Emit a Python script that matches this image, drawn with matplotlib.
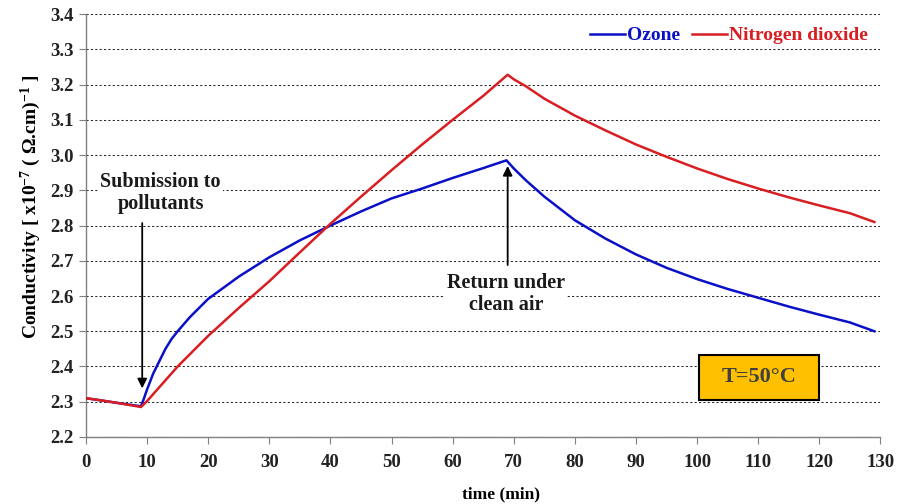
import matplotlib
matplotlib.use("Agg")
import matplotlib.pyplot as plt
from matplotlib.patches import Rectangle

plt.rcParams['font.family'] = ['Liberation Serif', 'DejaVu Serif']
plt.rcParams['font.weight'] = 'bold'
plt.rcParams['mathtext.fontset'] = 'custom'
plt.rcParams['mathtext.rm'] = 'Liberation Serif:bold'
plt.rcParams['mathtext.bf'] = 'Liberation Serif:bold'
plt.rcParams['mathtext.it'] = 'Liberation Serif:bold'
plt.rcParams['mathtext.default'] = 'bf'

# Data
t_ozone = [0, 2, 5, 9, 9.5, 10, 11, 12, 13, 14, 15, 17, 20, 25, 30, 35, 40, 45, 50, 55, 60, 65, 68.8,
           70, 72, 75, 80, 85, 90, 95, 100, 105, 110, 115, 120, 125, 129]
ozone = [2.31, 2.305, 2.297, 2.287, 2.31, 2.335, 2.38, 2.415, 2.45, 2.478, 2.50, 2.54, 2.592, 2.655, 2.71, 2.758,
         2.80, 2.84, 2.877, 2.905, 2.935, 2.963, 2.985,
         2.962, 2.928, 2.882, 2.815, 2.763, 2.718, 2.68, 2.648, 2.62, 2.595, 2.57, 2.547, 2.525, 2.50]

t_no2 = [0, 2, 5, 9, 10, 15, 20, 25, 30, 35, 40, 45, 50, 55, 60, 65, 69,
         70, 72, 75, 80, 85, 90, 95, 100, 105, 110, 115, 120, 125, 129]
no2 = [2.31, 2.305, 2.297, 2.285, 2.302, 2.40, 2.487, 2.566, 2.642, 2.724, 2.805, 2.882, 2.957, 3.03, 3.10, 3.168, 3.228,
       3.215, 3.195, 3.16, 3.112, 3.07, 3.03, 2.995, 2.962, 2.932, 2.905, 2.88, 2.857, 2.835, 2.81]

x_ticks = list(range(0, 131, 10))
y_ticks = [2.2, 2.3, 2.4, 2.5, 2.6, 2.7, 2.8, 2.9, 3.0, 3.1, 3.2, 3.3, 3.4]

blue = '#0A10C8'
red = '#D81E22'

fig = plt.figure(figsize=(9.09, 5.04), dpi=100)
ax = fig.add_axes([0.0946, 0.133, 0.874, 0.839])

ax.plot(t_ozone, ozone, color=blue, lw=1.8, label='Ozone', zorder=3)
ax.plot(t_no2, no2, color=red, lw=1.8, label='Nitrogen dioxide', zorder=3)

ax.set_xlim(0, 130)
ax.set_ylim(2.2, 3.4)
ax.set_xticks(x_ticks)
ax.set_yticks(y_ticks)
ax.set_yticklabels([f'{v:.1f}' for v in y_ticks])
ax.yaxis.grid(True, linestyle=(0, (2, 2.2)), color='#222222', lw=0.75)
ax.set_axisbelow(True)

for s in ['top', 'right']:
    ax.spines[s].set_visible(False)
for s in ['left', 'bottom']:
    ax.spines[s].set_color('#808080')
    ax.spines[s].set_linewidth(1.0)
ax.tick_params(axis='both', direction='out', length=5, color='#808080', labelsize=13.5, labelcolor='#222222')
ax.tick_params(axis='x', pad=7)
ax.tick_params(axis='y', pad=4)

ax.set_xlabel('time (min)', fontsize=12.5, fontweight='bold')
ax.xaxis.set_label_coords(0.523, -0.118)
ax.set_ylabel(r'Conductivity [ x10$^{-7}$ ( Ω.cm)$^{-1}$ ]', fontsize=14, fontweight='bold')
ax.yaxis.set_label_coords(-0.054, 0.545)

bbox = dict(boxstyle='square,pad=0.1', fc='white', ec='none')
ax.annotate('', xy=(9.2, 2.33), xytext=(9.2, 2.815),
            arrowprops=dict(arrowstyle='-|>', color='black', lw=1.3, mutation_scale=14), zorder=4)
ax.text(12.2, 2.893, 'Submission to\npollutants', ha='center', va='center', fontsize=14.5,
        fontweight='bold', color='#1a1a1a', bbox=bbox, linespacing=1.15, zorder=4)

ax.annotate('', xy=(69.0, 2.977), xytext=(69.0, 2.68),
            arrowprops=dict(arrowstyle='-|>', color='black', lw=1.3, mutation_scale=14), zorder=4)
ax.text(68.8, 2.606, 'Return under\nclean air', ha='center', va='center', fontsize=14.5,
        fontweight='bold', color='#1a1a1a', bbox=bbox, linespacing=1.15, zorder=4)

ax.add_patch(Rectangle((0.771, 0.0875), 0.152, 0.1065, transform=ax.transAxes,
                       fc='#FFC000', ec='black', lw=1.5, zorder=5))
ax.text(0.847, 0.141, 'T=50°C', transform=ax.transAxes, ha='center', va='center', fontsize=16,
        fontweight='bold', color='#404040', zorder=6)

leg = ax.legend(loc='upper right', bbox_to_anchor=(1.0, 1.0), ncol=2, frameon=False, fontsize=14,
                handlelength=1.8, handletextpad=0.1, columnspacing=0.6, borderaxespad=0.25)
for txt, c in zip(leg.get_texts(), [blue, red]):
    txt.set_color(c)
    txt.set_fontweight('bold')

fig.savefig('out.png', dpi=100)
